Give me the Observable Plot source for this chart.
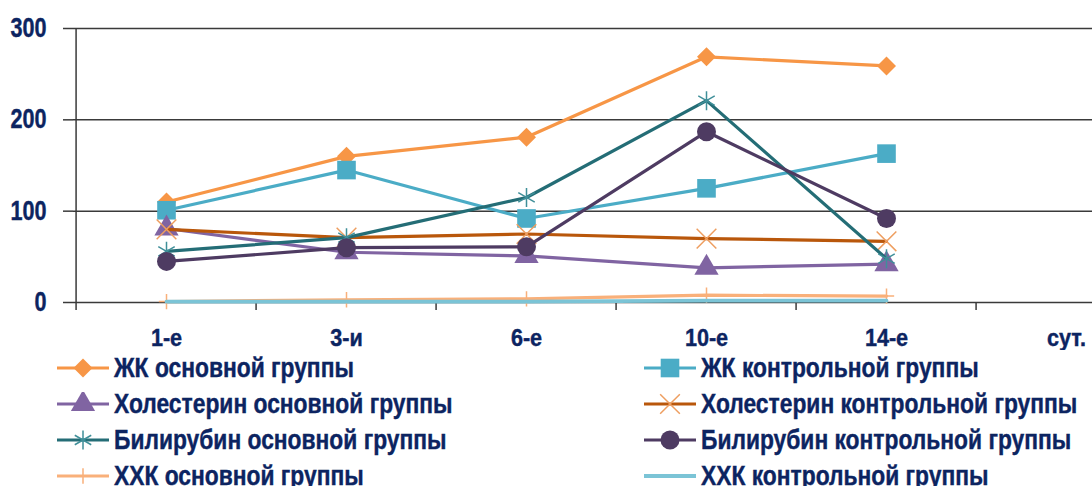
<!DOCTYPE html>
<html>
<head>
<meta charset="utf-8">
<script src="https://cdn.jsdelivr.net/npm/d3@7"></script>
<script src="https://cdn.jsdelivr.net/npm/@observablehq/plot@0.6"></script>
<style>
  html, body { margin: 0; padding: 0; background: #fff; }
  #wrap { position: relative; width: 1092px; height: 486px; overflow: hidden; }
  #legend { position: absolute; left: 0; top: 350px; width: 1092px; }
  .item { position: absolute; height: 36px; display: flex; align-items: center;
          font-family: "Liberation Sans", Arial, sans-serif;
          font-weight: bold; font-size: 27px; color: #0c2461; white-space: nowrap; }
  .item svg { margin-right: 5px; flex: none; }
  .item span { display: inline-block; transform: scaleX(0.845); transform-origin: left center;
               -webkit-text-stroke: 0.4px #0c2461; }
  .xlab text, .ylab text { stroke: #0c2461; stroke-width: 0.4px; }
</style>
</head>
<body>
<div id="wrap"><div id="chart"></div><div id="legend"></div></div>
<script>
// Categories (days)
const days = ["1-е", "3-и", "6-е", "10-е", "14-е", "сут."];
const dataDays = ["1-е", "3-и", "6-е", "10-е", "14-е"];
const yTicks = [0, 100, 200, 300];

// Series values
const zkMain      = [110, 160, 181, 269, 259];
const zkCtrl      = [101, 145, 92, 125, 163];
const cholMain    = [81, 55, 51, 38, 42];
const cholCtrl    = [80, 71, 75, 70, 67];
const biliMain    = [56, 71, 115, 221, 48];
const biliCtrl    = [45, 60, 61, 187, 92];
const hhkMain     = [1, 3, 4, 8, 7];
const hhkCtrl     = [1, 1, 1, 2, 2];

// Series names
const names = [
  "ЖК основной группы", "ЖК контрольной группы",
  "Холестерин основной группы", "Холестерин контрольной группы",
  "Билирубин основной группы", "Билирубин контрольной группы",
  "ХХК основной группы", "ХХК контрольной группы"
];
const values = [zkMain, zkCtrl, cholMain, cholCtrl, biliMain, biliCtrl, hhkMain, hhkCtrl];

// Styles
const styles = [
  {line: "#F79646", mark: "#F79646", symbol: "square", rotate: 45, r: 7.6, kind: "fill", w: 3.2},
  {line: "#4BACC6", mark: "#4BACC6", symbol: "square", rotate: 0, r: 10.5, kind: "fill", w: 3.2},
  {line: "#8064A2", mark: "#8064A2", symbol: "triangle", rotate: 0, r: 9, kind: "fill", w: 3.2},
  {line: "#B9570B", mark: "#EE9E60", symbol: "times", rotate: 0, r: 9, kind: "stroke", w: 3.2},
  {line: "#246D76", mark: "#3F8F99", symbol: "asterisk", rotate: 0, r: 9, kind: "stroke", w: 3.2},
  {line: "#4E3B62", mark: "#4E3B62", symbol: "circle", rotate: 0, r: 9.5, kind: "fill", w: 3.2},
  {line: "#F9B07A", mark: "#F9B07A", symbol: "plus", rotate: 0, r: 5, kind: "stroke", w: 3.2},
  {line: "#7BC4D6", mark: null, symbol: null, rotate: 0, r: 0, kind: "none", w: 3.8}
];

const W = 1092, H = 350;
const xRange = [73, 1158];
const bw = (xRange[1] - xRange[0]) / days.length;
const navy = "#0c2461";
const grid = "#3a3a3a";
const font = '"Liberation Sans", Arial, sans-serif';

const marks = [
  Plot.ruleY(yTicks, {stroke: grid, strokeWidth: 1.5}),
  Plot.ruleX([days[0]], {x: d => d, y1: 0, y2: 300, dx: -bw / 2, stroke: grid, strokeWidth: 1.5}),
  Plot.axisX({ticks: days, tickSize: 8, tickFormat: () => "", dx: -bw / 2, stroke: grid, strokeWidth: 1.5, label: null}),
  Plot.axisX({ticks: days, tickSize: 0, tickPadding: 26, fontSize: 24, fill: navy, label: null, className: "xlab"}),
  Plot.axisY({ticks: yTicks, tickSize: 10, tickPadding: 17, fontSize: 27, fill: navy, stroke: grid, strokeWidth: 1.5, label: null, className: "ylab"})
];

values.forEach((vals, i) => {
  const rows = dataDays.map((d, j) => ({day: d, v: vals[j]}));
  const s = styles[i];
  marks.push(Plot.line(rows, {x: "day", y: "v", stroke: s.line, strokeWidth: s.w, curve: "linear"}));
  if (s.kind === "fill") {
    marks.push(Plot.dot(rows, {x: "day", y: "v", symbol: s.symbol, r: s.r, fill: s.mark, stroke: "none", rotate: s.rotate}));
  } else if (s.kind === "stroke") {
    marks.push(Plot.dot(rows, {x: "day", y: "v", symbol: s.symbol, r: s.r, stroke: s.mark, strokeWidth: 1.5, fill: "none"}));
  }
});

const chart = Plot.plot({
  width: W, height: H,
  marginLeft: 73, marginRight: 0, marginTop: 28, marginBottom: 48,
  x: {type: "band", domain: days, range: xRange, padding: 0, label: null},
  y: {domain: [0, 300], range: [302, 28], label: null},
  style: {fontFamily: font, fontWeight: "bold", color: navy, background: "#fff", overflow: "hidden"},
  marks
});
document.getElementById("chart").appendChild(chart);

// Condense axis text horizontally (reference uses a narrow bold face)
function condense(sel, k) {
  d3.select(chart).selectAll(sel).each(function () {
    const L = this.getComputedTextLength();
    if (L > 0) {
      this.setAttribute("textLength", L * k);
      this.setAttribute("lengthAdjust", "spacingAndGlyphs");
    }
  });
}
condense(".xlab text", 0.9);
condense(".ylab text", 0.8);

// Legend
const legend = d3.select("#legend");
const cols = [57, 644];
const symMap = {square: d3.symbolSquare, triangle: d3.symbolTriangle, times: d3.symbolTimes,
  asterisk: d3.symbolAsterisk, circle: d3.symbolCircle, plus: d3.symbolPlus};
names.forEach((name, i) => {
  const col = i % 2, row = Math.floor(i / 2);
  const s = styles[i];
  const item = legend.append("div").attr("class", "item")
    .style("left", cols[col] + "px").style("top", (row * 36) + "px");
  const svg = item.append("svg").attr("width", 52).attr("height", 24);
  svg.append("line").attr("x1", 0).attr("x2", 52).attr("y1", 12).attr("y2", 12)
    .attr("stroke", s.line).attr("stroke-width", s.w);
  if (s.kind !== "none") {
    const path = d3.symbol(symMap[s.symbol], Math.PI * s.r * s.r)();
    const p = svg.append("path").attr("d", path)
      .attr("transform", `translate(26,12) rotate(${s.rotate})`);
    if (s.kind === "fill") p.attr("fill", s.mark);
    else p.attr("fill", "none").attr("stroke", s.mark).attr("stroke-width", 1.5);
  }
  item.append("span").text(name);
});
</script>
</body>
</html>
